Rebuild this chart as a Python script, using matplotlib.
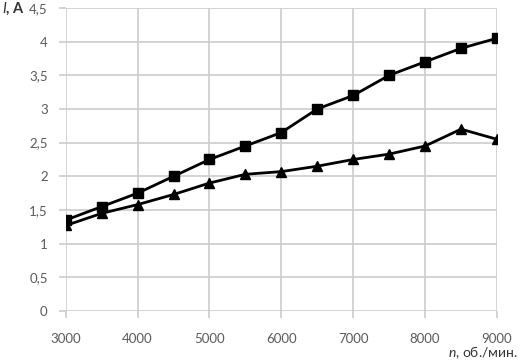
import numpy as np
import matplotlib.pyplot as plt

n_rpm = [3000, 3500, 4000, 4500, 5000, 5500, 6000, 6500, 7000, 7500, 8000, 8500, 9000]
i_square = [1.35, 1.55, 1.75, 2.0, 2.25, 2.45, 2.65, 3.0, 3.2, 3.5, 3.7, 3.9, 4.05]
i_triangle = [1.27, 1.45, 1.58, 1.73, 1.9, 2.03, 2.07, 2.15, 2.25, 2.33, 2.45, 2.7, 2.55]
y_ticks = [0, 0.5, 1, 1.5, 2, 2.5, 3, 3.5, 4, 4.5]
x_ticks = [3000, 4000, 5000, 6000, 7000, 8000, 9000]

plt.rcParams['font.family'] = ['Lato', 'DejaVu Sans']
plt.rcParams['mathtext.fontset'] = 'custom'
plt.rcParams['mathtext.it'] = 'Lato:italic'

fig = plt.figure(figsize=(5.22, 3.61), dpi=100)
ax = fig.add_axes([0.126, 0.1385, 0.826, 0.8395])

ax.plot(n_rpm, i_square, '-s', color='black', lw=2, ms=7.5, zorder=3)
ax.plot(n_rpm, i_triangle, '-^', color='black', lw=2, ms=7.5, zorder=3)

ax.set_xlim(3000, 9000)
ax.set_ylim(0, 4.5)
ax.set_xticks(x_ticks)
ax.set_yticks(y_ticks)
ax.set_yticklabels([('%g' % v).replace('.', ',') for v in y_ticks])
ax.grid(True, color='#cccccc', lw=1.2)
for s in ax.spines.values():
    s.set_visible(False)
ax.tick_params(colors='#cccccc', labelcolor='#5a5a5a', labelsize=9.5, length=5, width=1.2)
ax.tick_params(axis='x', pad=11)
ax.tick_params(axis='y', pad=8)

fig.text(0.003, 0.965, r'$\mathit{I}$, А', fontsize=10.5, fontweight='bold', color='#333333')
fig.text(0.992, 0.012, r'$\mathit{n}$, об./мин.', fontsize=10, color='#333333', ha='right')

fig.savefig('out.png', dpi=100)
